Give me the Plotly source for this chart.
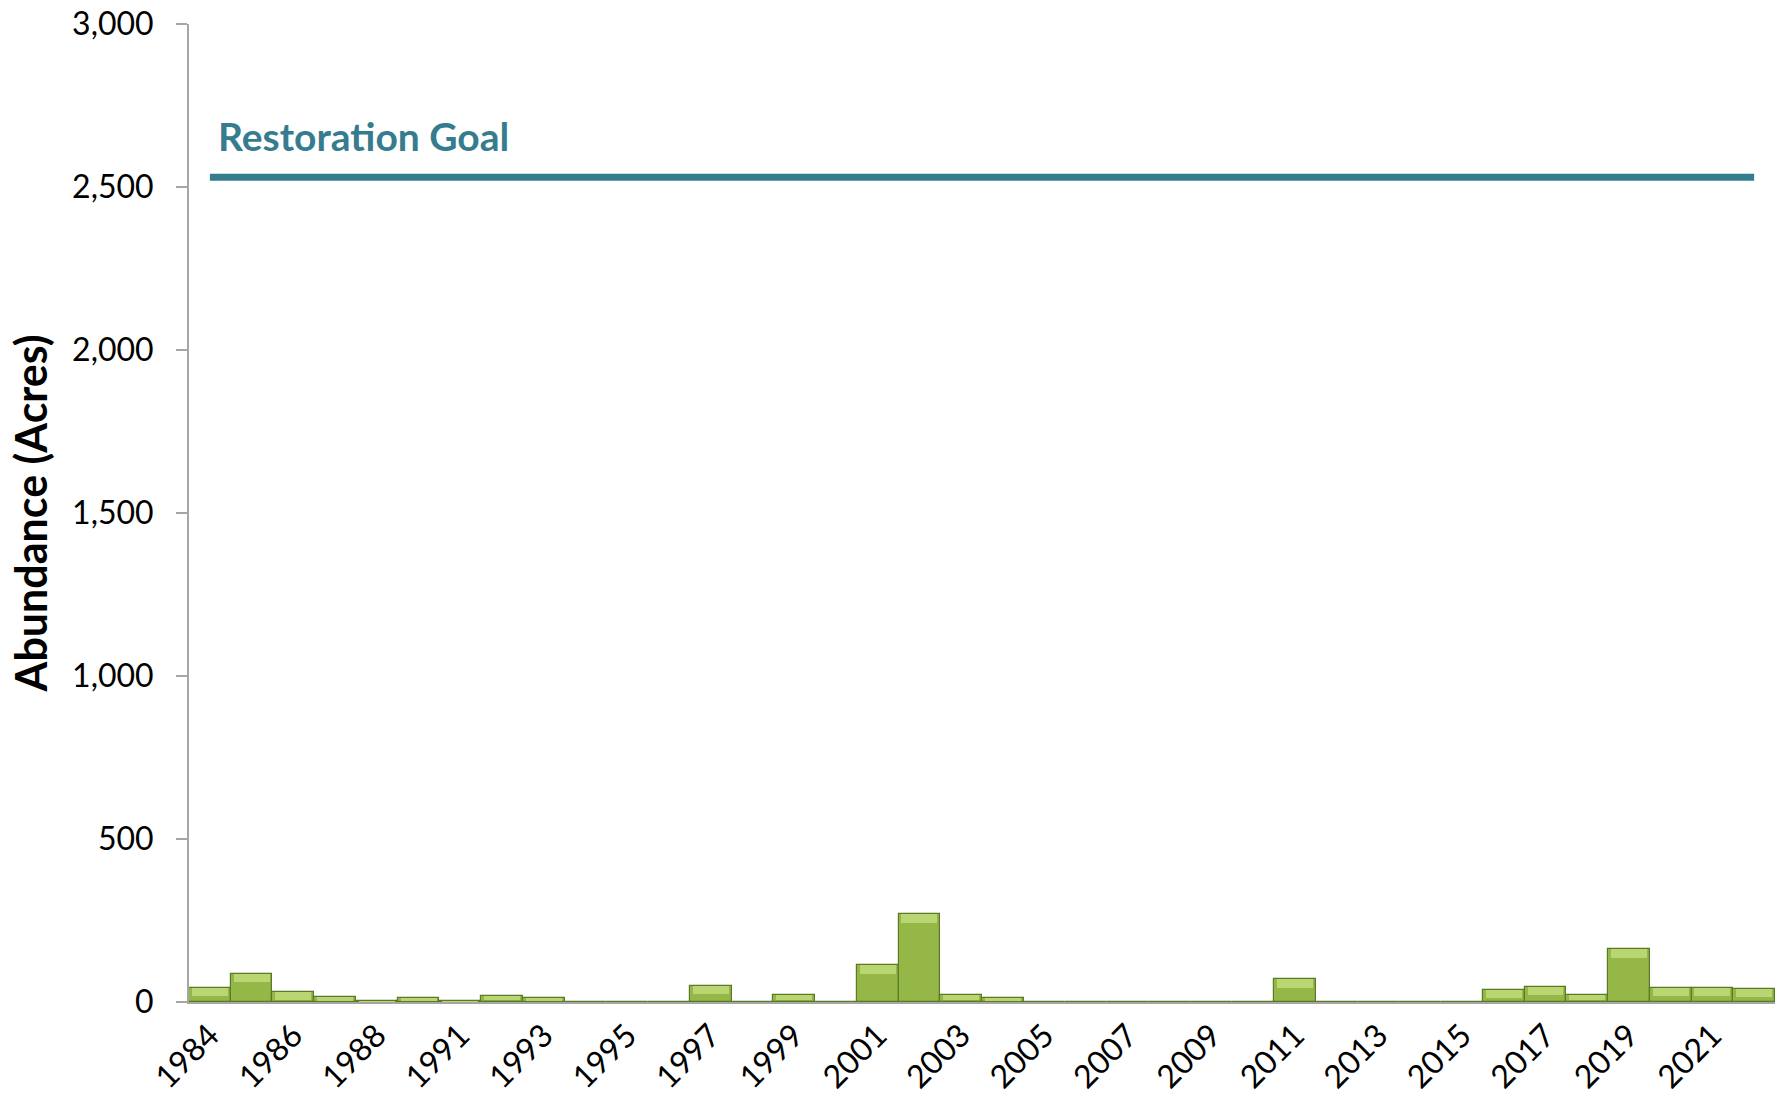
import plotly.graph_objects as go

years = ["1984", "1985", "1986", "1987", "1988", "1990", "1991", "1992", "1993",
         "1994", "1995", "1996", "1997", "1998", "1999", "2000", "2001", "2002",
         "2003", "2004", "2005", "2006", "2007", "2008", "2009", "2010", "2011",
         "2012", "2013", "2014", "2015", "2016", "2017", "2018", "2019", "2020",
         "2021", "2022"]
abundance = [43, 86, 30, 14, 2, 13, 2, 19, 13,
             0, 0, 0, 50, 0, 23, 0, 113, 269,
             22, 11, 0, 0, 0, 0, 0, 0, 70,
             0, 0, 0, 0, 37, 47, 21, 162, 44,
             44, 40]
restoration_goal = 2530
tick_years = years[::2]

FONT = "Lato, 'Open Sans', sans-serif"
BEVEL = 26  # height of the light top bevel, in acres (style only)

bevel_h = [min(v * 0.75, BEVEL) for v in abundance]
bevel_base = [v - b for v, b in zip(abundance, bevel_h)]

fig = go.Figure()
fig.add_trace(go.Bar(
    x=years, y=abundance,
    marker=dict(color="#94B748", line=dict(color="#5A7A26", width=1.2)),
    showlegend=False,
))
fig.add_trace(go.Bar(
    x=years, y=bevel_h, base=bevel_base, width=0.86,
    marker=dict(color="#B9D673", line=dict(width=0)),
    showlegend=False, hoverinfo="skip",
))
fig.add_trace(go.Scatter(
    x=years, y=[restoration_goal] * len(years),
    mode="lines", line=dict(color="#357D8E", width=7),
    showlegend=False, hoverinfo="skip",
))
fig.add_annotation(
    x=0, y=restoration_goal, xref="x", yref="y",
    text="<b>Restoration Goal</b>", showarrow=False,
    xanchor="left", yanchor="bottom", xshift=6, yshift=16,
    font=dict(family=FONT, size=39, color="#357D8E"),
)
fig.add_annotation(
    x=-0.1, y=0.5, xref="paper", yref="paper",
    text="<b>Abundance (Acres)</b>", showarrow=False, textangle=-90,
    xanchor="center", yanchor="middle",
    font=dict(family=FONT, size=43, color="black"),
)

fig.update_layout(
    width=1781, height=1108,
    margin=dict(l=189, r=6, t=24, b=106),
    paper_bgcolor="white", plot_bgcolor="white",
    bargap=0, barmode="overlay",
    font=dict(family=FONT, size=32, color="black"),
)
fig.update_xaxes(
    type="category", range=[-0.5, len(years) - 0.5],
    tickmode="array", tickvals=tick_years, ticktext=tick_years,
    tickangle=-45, showgrid=False, showline=True, linecolor="#A6A6A6", linewidth=2,
    ticks="", tickfont=dict(size=32), automargin=False,
)
fig.update_yaxes(
    range=[0, 3000], dtick=500, tickformat=",", showgrid=False,
    showline=True, linecolor="#A6A6A6", linewidth=2,
    ticks="outside", ticklen=11, tickwidth=2, tickcolor="#A6A6A6",
    ticklabelstandoff=16, tickfont=dict(size=32), zeroline=False,
    ticklabeloverflow="allow", automargin=False,
)

fig.write_html("out.html", config={"displayModeBar": False},
               post_script="document.body.style.margin='0';")
